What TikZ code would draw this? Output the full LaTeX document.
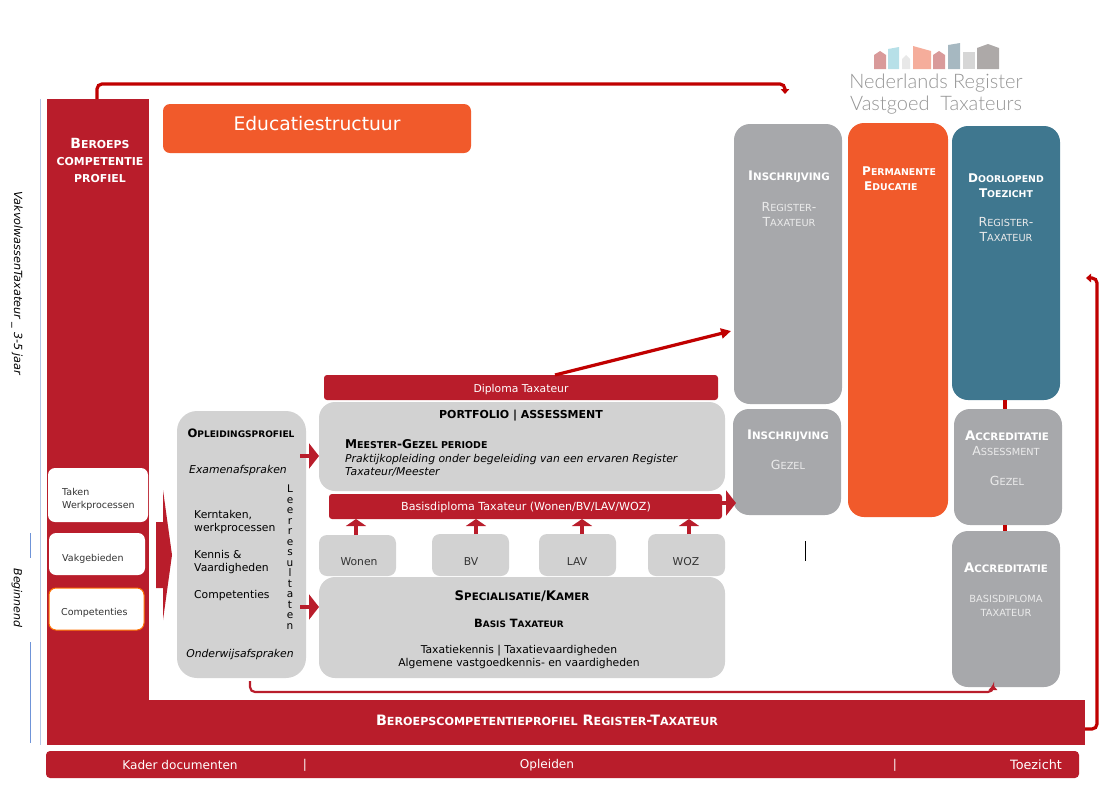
\documentclass[tikz,border=0pt]{standalone}
\usepackage{fontspec}
\setmainfont{DejaVu Sans}
\newfontfamily\logofont{Lato Light}
\usetikzlibrary{arrows.meta}
\definecolor{nrvtrood}{HTML}{B91D2B}
\definecolor{lijnrood}{HTML}{C00000}
\definecolor{nrvtoranje}{HTML}{F15A2B}
\definecolor{nrvtgrijs}{HTML}{A7A8AB}
\definecolor{lichtgrijs}{HTML}{D2D2D2}
\definecolor{nrvtblauw}{HTML}{3F778F}
\definecolor{zijlicht}{HTML}{B4C7E7}
\definecolor{zijblauw}{HTML}{6F94D8}
\definecolor{huisroze}{HTML}{D99A9A}
\definecolor{huisblauw}{HTML}{B7E0E8}
\definecolor{huiswit}{HTML}{E8E8E8}
\definecolor{huiszalm}{HTML}{F5AD9B}
\definecolor{huisleis}{HTML}{A6B8C1}
\definecolor{huisgrijs}{HTML}{D6D6D6}
\definecolor{huistaupe}{HTML}{ADA9A8}
\makeatletter
\newcommand{\kk}[2]{#1{\@tempdima=\f@size pt \@tempdima=0.78\@tempdima \fontsize{\strip@pt\@tempdima}{\strip@pt\@tempdima}\selectfont #2}}
\makeatother
\newcommand{\px}[2]{\fontsize{#1}{#2}\selectfont}
\tikzset{
  vak/.style={rectangle,anchor=north west,inner sep=0pt,outer sep=0pt,draw=none},
  rood/.style={vak,fill=nrvtrood},
  grijs/.style={vak,fill=nrvtgrijs,rounded corners=16pt},
  licht/.style={vak,fill=lichtgrijs,rounded corners=16pt},
  wit/.style={vak,fill=white,rounded corners=7pt},
  tekst/.style={inner sep=0pt,align=center,font=\px{10.8}{13}},
  kop/.style={tekst,font=\bfseries\px{13.2}{15}},
  witkop/.style={kop,text=white},
  zacht/.style={tekst,text=black!8,font=\px{12.5}{15}},
  blok/.style={nrvtrood,line width=3.5pt,-{Triangle[length=10pt,width=25pt]}},
  klein/.style={nrvtrood,line width=3.5pt,-{Triangle[length=7pt,width=20pt]}},
  lijn/.style={lijnrood,line width=3.2pt,rounded corners=5pt,-{Triangle[length=5pt,width=8.5pt]}}
}
\begin{document}
\begin{tikzpicture}[x=1pt,y=-1pt]
  \useasboundingbox (0,0) rectangle (1117,788);

  % kader
  \node (kolom) [rood,minimum width=102pt,minimum height=646pt] at (47,99) {};
  \node (balk) [rood,minimum width=1038pt,minimum height=45pt] at (47,700) {};
  \node (voet) [rood,rounded corners=4pt,minimum width=1033pt,minimum height=27pt] at (46,751) {};
  \node (titel) [vak,fill=nrvtoranje,rounded corners=7pt,minimum width=308pt,minimum height=49pt] at (163,104) {};

  % rechter kolommen
  \node (inschrijf) [grijs,minimum width=108pt,minimum height=280pt] at (734,124) {};
  \node (permanent) [grijs,fill=nrvtoranje,minimum width=100pt,minimum height=394pt] at (848,123) {};
  \node (toezicht) [grijs,fill=nrvtblauw,minimum width=108pt,minimum height=274pt] at (952,126) {};
  \node (gezel) [grijs,minimum width=108pt,minimum height=106pt] at (733,409) {};
  \node (assess) [grijs,minimum width=108pt,minimum height=116pt] at (954,409) {};
  \node (accred) [grijs,minimum width=108pt,minimum height=156pt] at (952,531) {};

  % midden
  \node (profiel) [licht,rounded corners=20pt,minimum width=129pt,minimum height=267pt] at (177,411) {};
  \node (portfolio) [licht,minimum width=406pt,minimum height=89pt] at (319,402) {};
  \node (diploma) [rood,rounded corners=3pt,minimum width=394pt,minimum height=25pt] at (324,375) {};
  \node (basis) [rood,rounded corners=3pt,minimum width=393pt,minimum height=25pt] at (329,494) {};
  \node (wonen) [licht,rounded corners=8pt,minimum width=77pt,minimum height=41pt] at (319,535) {};
  \node (bv) [licht,rounded corners=8pt,minimum width=77pt,minimum height=42pt] at (432,534) {};
  \node (lav) [licht,rounded corners=8pt,minimum width=77pt,minimum height=42pt] at (539,534) {};
  \node (woz) [licht,rounded corners=8pt,minimum width=77pt,minimum height=42pt] at (648,534) {};
  \node (kamer) [licht,minimum width=406pt,minimum height=101pt] at (319,577) {};

  % links
  \node (taken) [wit,minimum width=100pt,minimum height=54pt] at (48,468) {};
  \node (vakgeb) [wit,minimum width=96pt,minimum height=42pt] at (49,533) {};
  \node (compet) [wit,draw=orange!90!red,line width=1pt,minimum width=95pt,minimum height=42pt] at (49,588) {};

  % verbindingen
  \coordinate (boven) at (97,99);
  \coordinate (bovenend) at (785,94);
  \draw[lijn] (boven) -- (97,84) -- (785,84) -- (bovenend);
  \coordinate (rechts) at (1085,729);
  \coordinate (rechtsend) at (1086,278);
  \draw[lijn] (rechts) -- (1097,729) -- (1097,278) -- (rechtsend);
  \coordinate (onder) at (250,681);
  \coordinate (onderend) at (993,685);
  \draw[lijn,nrvtrood,line width=2.2pt] (onder) -- (250,692) -- (993,692) -- (onderend);
  \coordinate (dipstart) at (555,375);
  \coordinate (dipend) at (731,331);
  \draw[lijn,-{Triangle[length=10pt,width=10pt]}] (dipstart) -- (dipend);
  \draw[lijnrood,line width=4pt] (toezicht.south -| 1005,0) -- (assess.north -| 1005,0);
  \draw[lijnrood,line width=4pt] (assess.south -| 1005,0) -- (accred.north -| 1005,0);

  % blokpijlen
  \fill[nrvtrood] (156,522) -- (163,522) -- (163,490) -- (172,555) -- (163,620) -- (163,588) -- (156,588) -- cycle;
  \coordinate (prof1) at (300,456);
  \coordinate (prof2) at (300,607);
  \draw[blok] (prof1) -- (prof1 -| portfolio.west);
  \draw[blok] (prof2) -- (prof2 -| kamer.west);
  \draw[klein] ([xshift=-1.5pt]wonen.north) -- ([xshift=-1.5pt]wonen.north |- basis.south);
  \draw[klein] ([xshift=5.5pt]bv.north) -- ([xshift=5.5pt]bv.north |- basis.south);
  \draw[klein] ([xshift=4.5pt]lav.north) -- ([xshift=4.5pt]lav.north |- basis.south);
  \draw[klein] ([xshift=2.5pt]woz.north) -- ([xshift=2.5pt]woz.north |- basis.south);
  \coordinate (basisuit) at (722,503);
  \draw[blok,shorten >=-3pt] (basisuit) -- (basisuit -| gezel.west);

  % zijlijnen
  \draw[zijlicht,line width=0.8pt] (40,99) -- (40,745);
  \draw[zijblauw,line width=0.8pt] (30,533) -- (30,558);
  \draw[zijblauw,line width=0.8pt] (30,642) -- (30,743);
  \draw[black,line width=1pt] (805.5,541) -- (805.5,561);

  % teksten links
  \node (t-vol) [tekst,rotate=-90,font=\itshape\px{11.2}{12}] at (17,283.5) {VakvolwassenTaxateur \_ 3-5 jaar};
  \node (t-beg) [tekst,rotate=-90,font=\itshape\px{11}{12}] at (17,598) {Beginnend};
  \node (t-ber) [witkop,font=\bfseries\px{14}{17}] at (100,160) {\kk{B}{EROEPS}\\\kk{}{COMPETENTIE}\\\kk{}{PROFIEL}};
  \node (t-tit) [tekst,text=white,font=\px{18.7}{22}] at (317,124) {Educatiestructuur};
  \node (t-tak) [tekst,align=left,anchor=west,text=black!80,font=\px{9.5}{13}] at (62,499) {Taken\\Werkprocessen};
  \node (t-vak) [tekst,anchor=west,text=black!80,font=\px{9.5}{13}] at (62,559) {Vakgebieden};
  \node (t-com) [tekst,anchor=west,text=black!80,font=\px{9.5}{13}] at (61,613) {Competenties};

  % teksten profiel
  \node (t-opl) [kop,font=\bfseries\px{11.6}{13}] at (241,433) {\kk{O}{PLEIDINGSPROFIEL}};
  \node (t-exa) [tekst,font=\itshape\px{10.8}{13}] at (238,470.5) {Examenafspraken};
  \node (t-ker) [tekst,align=left,anchor=west] at (194,522.5) {Kerntaken,\\werkprocessen};
  \node (t-ken) [tekst,align=left,anchor=west] at (194,562.5) {Kennis \&\\Vaardigheden};
  \node (t-cmp) [tekst,anchor=west] at (194,595.5) {Competenties};
  \node (t-ond) [tekst,font=\itshape\px{10.8}{13}] at (240,654.5) {Onderwijsafspraken};
  \node (t-lee) [tekst,font=\px{10.5}{10.5}] at (290,557) {L\\e\\e\\r\\r\\e\\s\\u\\l\\t\\a\\t\\e\\n};

  % teksten midden
  \node (t-dip) [tekst,text=white] at (521,389.5) {Diploma Taxateur};
  \node (t-por) [kop,font=\bfseries\px{11}{13}] at (521,415.5) {PORTFOLIO | ASSESSMENT};
  \node (t-mee) [kop,anchor=west,font=\bfseries\px{12.1}{15}] at (345,444) {\kk{M}{EESTER}-\kk{G}{EZEL PERIODE}};
  \node (t-pra) [tekst,align=left,anchor=west,font=\itshape\px{10.8}{13}] at (345,465) {Praktijkopleiding onder begeleiding van een ervaren Register\\Taxateur/Meester};
  \node (t-bas) [tekst,text=white,font=\px{11.1}{13}] at (526,507) {Basisdiploma Taxateur (Wonen/BV/LAV/WOZ)};
  \node (t-won) [tekst,text=black!80,anchor=base] at (359,565) {Wonen};
  \node (t-bv) [tekst,text=black!80,anchor=base] at (471,565) {BV};
  \node (t-lav) [tekst,text=black!80,anchor=base] at (577,565) {LAV};
  \node (t-woz) [tekst,text=black!80,anchor=base] at (686,565) {WOZ};
  \node (t-spe) [kop] at (522,596) {\kk{S}{PECIALISATIE}/\kk{K}{AMER}};
  \node (t-bat) [kop,font=\bfseries\px{11.4}{13}] at (519,623) {\kk{B}{ASIS} \kk{T}{AXATEUR}};
  \node (t-alg) [tekst] at (519,657) {Taxatiekennis | Taxatievaardigheden\\Algemene vastgoedkennis- en vaardigheden};

  % teksten rechts
  \node (t-ins) [witkop] at (789,177) {\kk{I}{NSCHRIJVING}};
  \node (t-reg) [zacht] at (789,214.5) {\kk{R}{EGISTER}-\\\kk{T}{AXATEUR}};
  \node (t-per) [witkop,align=left,anchor=west,font=\bfseries\px{12}{15}] at (862,178.5) {\kk{P}{ERMANENTE}\\\,\kk{E}{DUCATIE}};
  \node (t-doo) [witkop,font=\bfseries\px{12}{15}] at (1006,186) {\kk{D}{OORLOPEND}\\\kk{T}{OEZICHT}};
  \node (t-re2) [zacht] at (1006,230) {\kk{R}{EGISTER}-\\\kk{T}{AXATEUR}};
  \node (t-in2) [witkop] at (788,436) {\kk{I}{NSCHRIJVING}};
  \node (t-gez) [zacht] at (788,465) {\kk{G}{EZEL}};
  \node (t-acc) [witkop] at (1007,436) {\kk{A}{CCREDITATIE}};
  \node (t-ass) [zacht] at (1006,451) {\kk{A}{SSESSMENT}};
  \node (t-ge2) [zacht] at (1007,481) {\kk{G}{EZEL}};
  \node (t-ac2) [witkop] at (1006,568) {\kk{A}{CCREDITATIE}};
  \node (t-dpl) [zacht,font=\px{9.8}{14}] at (1006,606) {BASISDIPLOMA\\TAXATEUR};

  % onderbalken
  \node (t-bcp) [witkop,font=\bfseries\px{14.3}{15}] at (547,720) {\kk{B}{EROEPSCOMPETENTIEPROFIEL} \kk{R}{EGISTER}-\kk{T}{AXATEUR}};
  \node (t-kad) [tekst,text=white,font=\px{12.1}{13}] at (180,765) {Kader documenten};
  \node (t-sp1) [tekst,text=white,font=\px{12.1}{13}] at (305,765) {|};
  \node (t-ople) [tekst,text=white,font=\px{12.1}{13}] at (547,765) {Opleiden};
  \node (t-sp2) [tekst,text=white,font=\px{12.1}{13}] at (895,765) {|};
  \node (t-toe) [tekst,text=white,font=\px{12.8}{13}] at (1036,765) {Toezicht};

  % logo
  \fill[huisroze] (874,69) -- (874,55) -- (880,51) -- (886,55) -- (886,69) -- cycle;
  \fill[huisblauw] (888,69) -- (888,49) -- (899,47) -- (899,69) -- cycle;
  \fill[huiswit] (902,69) -- (902,59) -- (906,55) -- (910,59) -- (910,69) -- cycle;
  \fill[huiszalm] (913,69) -- (913,46) -- (931,51) -- (931,69) -- cycle;
  \fill[huisroze] (933,69) -- (933,55) -- (939,51) -- (945,55) -- (945,69) -- cycle;
  \fill[huisleis] (948,69) -- (948,45) -- (960,43) -- (960,69) -- cycle;
  \fill[huisgrijs] (963,69) -- (963,52) -- (975,52) -- (975,69) -- cycle;
  \fill[huistaupe] (977,69) -- (977,48) -- (988,44) -- (999,48) -- (999,69) -- cycle;
  \node (t-lo1) [tekst,text=black!42,font=\logofont\px{20}{22}] at (936,83) {Nederlands Register};
  \node (t-lo2) [tekst,text=black!42,font=\logofont\px{20}{22}] at (936,105) {Vastgoed\ \ Taxateurs};
\end{tikzpicture}
\end{document}
